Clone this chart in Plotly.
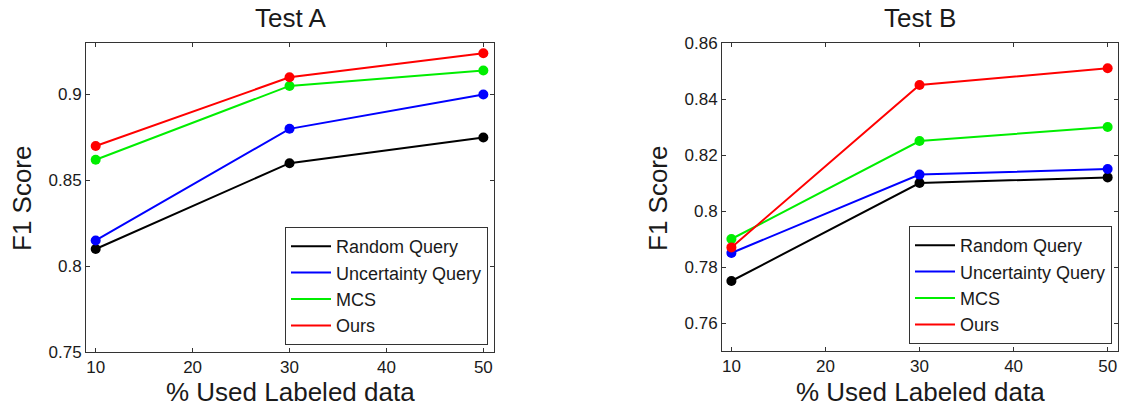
import plotly.graph_objects as go

x_pct = [10, 30, 50]
series_names = ["Random Query", "Uncertainty Query", "MCS", "Ours"]
series_colors = ["#000000", "#0000ff", "#00ee00", "#ff0000"]

test_a_random = [0.810, 0.860, 0.875]
test_a_uncert = [0.815, 0.880, 0.900]
test_a_mcs = [0.862, 0.905, 0.914]
test_a_ours = [0.870, 0.910, 0.924]

test_b_random = [0.775, 0.810, 0.812]
test_b_uncert = [0.785, 0.813, 0.815]
test_b_mcs = [0.790, 0.825, 0.830]
test_b_ours = [0.787, 0.845, 0.851]

x_ticks = [10, 20, 30, 40, 50]
a_yticks = [0.75, 0.8, 0.85, 0.9]
a_yticktext = ["0.75", "0.8", "0.85", "0.9"]
b_yticks = [0.76, 0.78, 0.8, 0.82, 0.84, 0.86]
b_yticktext = ["0.76", "0.78", "0.8", "0.82", "0.84", "0.86"]

FONT = "Liberation Sans, Arial, sans-serif"
TXT = "#1a1a1a"
W, H = 1137, 406

fig = go.Figure()

panels = [
    ("x", "y", "legend", [test_a_random, test_a_uncert, test_a_mcs, test_a_ours]),
    ("x2", "y2", "legend2", [test_b_random, test_b_uncert, test_b_mcs, test_b_ours]),
]
for xa, ya, leg, data in panels:
    for name, color, vals in zip(series_names, series_colors, data):
        fig.add_trace(go.Scatter(x=x_pct, y=vals, mode="lines", name=name,
                                 line=dict(color=color, width=2), xaxis=xa, yaxis=ya,
                                 legend=leg, showlegend=True, hoverinfo="skip"))
    for name, color, vals in zip(series_names, series_colors, data):
        fig.add_trace(go.Scatter(x=x_pct, y=vals, mode="markers", name=name,
                                 marker=dict(color=color, size=10), xaxis=xa, yaxis=ya,
                                 showlegend=False))

axis_common = dict(showgrid=False, zeroline=False, showline=True, linecolor="#333333",
                   linewidth=1, mirror="ticks", ticks="inside", ticklen=4, tickwidth=1,
                   tickcolor="#333333", automargin=False,
                   tickfont=dict(family=FONT, size=17, color=TXT))

legend_common = dict(xanchor="right", yanchor="bottom", bgcolor="white",
                     bordercolor="#333333", borderwidth=1,
                     font=dict(family=FONT, size=18, color=TXT),
                     tracegroupgap=0, itemwidth=40)

fig.update_layout(
    width=W, height=H, margin=dict(l=0, r=0, t=0, b=0, pad=0, autoexpand=False),
    paper_bgcolor="white", plot_bgcolor="white",
    xaxis=dict(domain=[86 / W, 494 / W], range=[9, 51.1], tickvals=x_ticks, anchor="y", **axis_common),
    yaxis=dict(domain=[1 - 352 / H, 1 - 43 / H], range=[0.75, 0.93], tickvals=a_yticks,
               ticktext=a_yticktext, anchor="x", **axis_common),
    xaxis2=dict(domain=[722 / W, 1118 / W], range=[9, 51.1], tickvals=x_ticks, anchor="y2", **axis_common),
    yaxis2=dict(domain=[1 - 351 / H, 1 - 43 / H], range=[0.75, 0.86], tickvals=b_yticks,
                ticktext=b_yticktext, anchor="x2", **axis_common),
    legend=dict(x=488 / W, y=1 - 345 / H, **legend_common),
    legend2=dict(x=1112 / W, y=1 - 344 / H, **legend_common),
    showlegend=True,
)

ann_font = dict(family=FONT, size=26, color=TXT)
annotations = [
    dict(text="Test A", x=290 / W, y=1 - 18 / H),
    dict(text="Test B", x=920 / W, y=1 - 18 / H),
    dict(text="% Used Labeled data", x=290 / W, y=1 - 392 / H),
    dict(text="% Used Labeled data", x=920 / W, y=1 - 392 / H),
    dict(text="F1 Score", x=22 / W, y=1 - 198 / H, textangle=-90),
    dict(text="F1 Score", x=658 / W, y=1 - 198 / H, textangle=-90),
]
for a in annotations:
    fig.add_annotation(xref="paper", yref="paper", xanchor="center", yanchor="middle",
                       showarrow=False, font=ann_font, **a)

fig.write_html("out.html", config={"displayModeBar": False},
               post_script="document.body.style.margin='0';document.body.style.overflow='hidden';")
